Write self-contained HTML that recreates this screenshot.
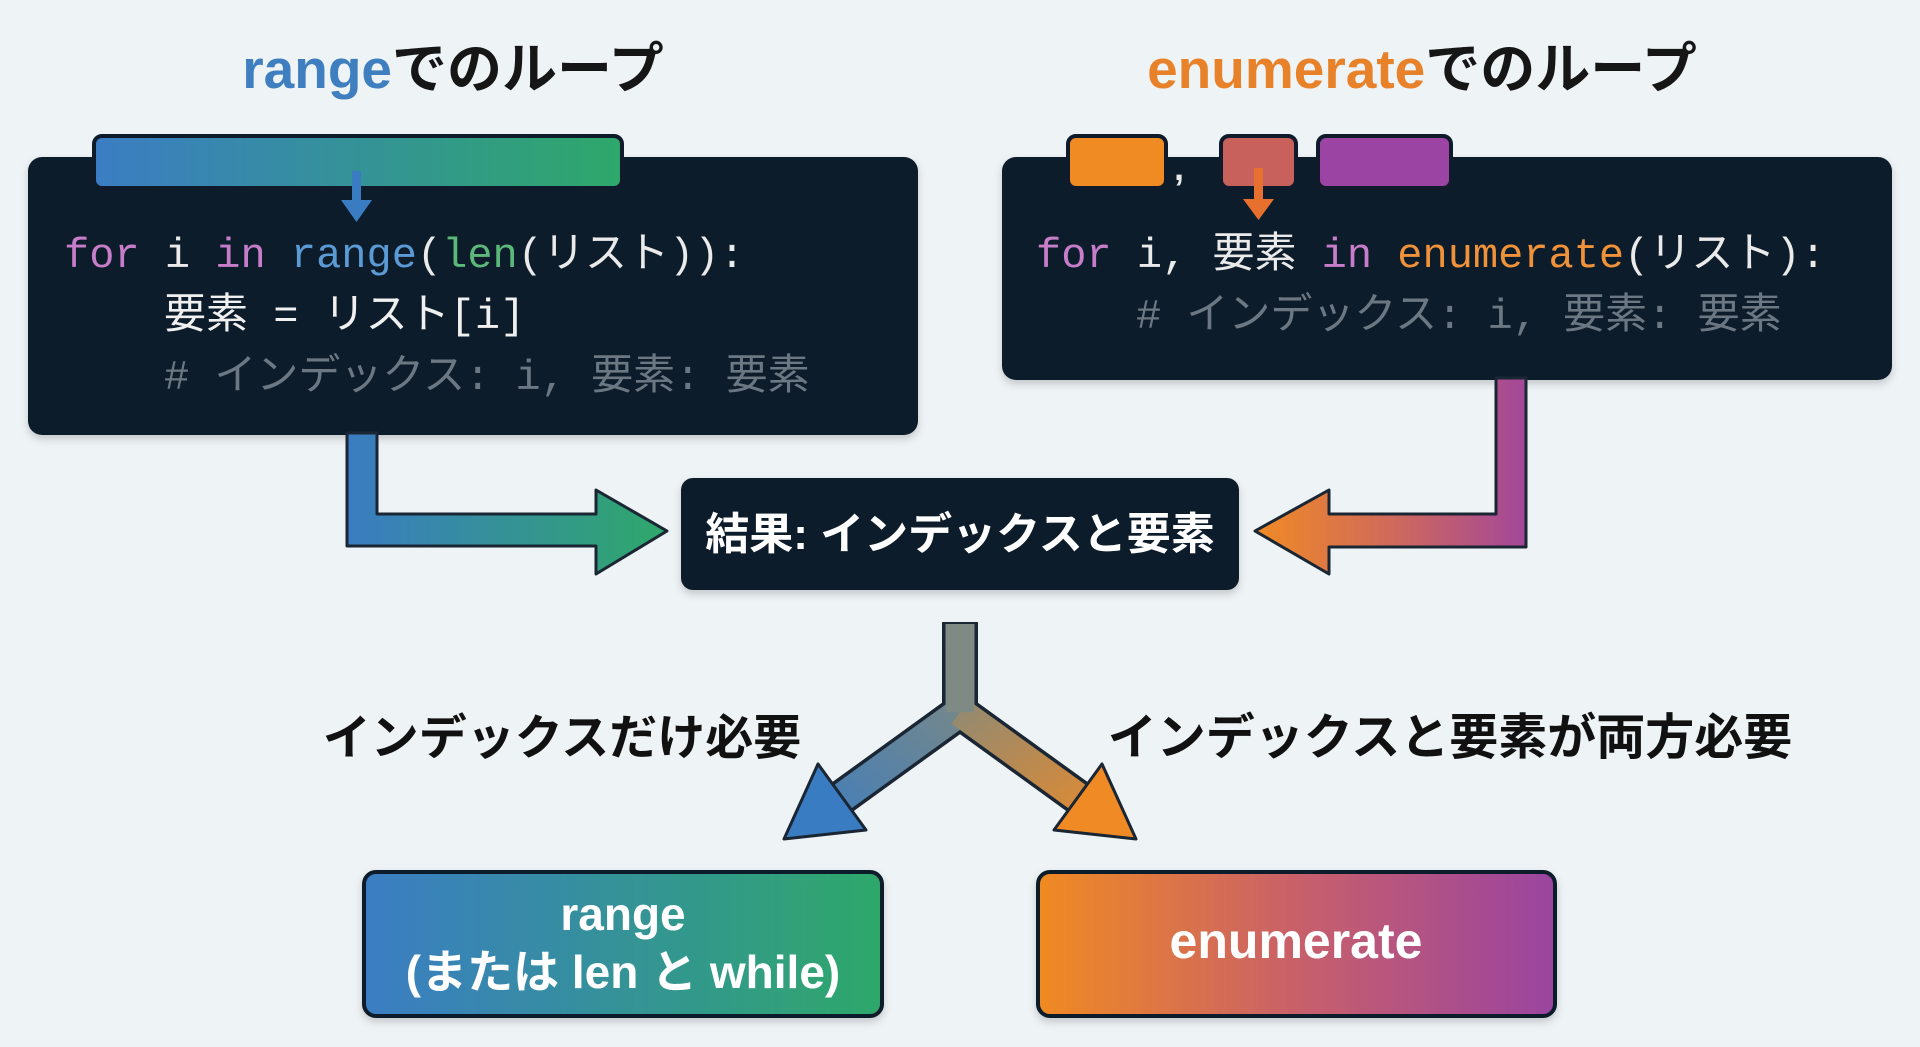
<!DOCTYPE html>
<html><head><meta charset="utf-8"><style>
html,body{margin:0;padding:0;background:#eef3f6;}
svg{display:block;}
.t{font-family:"Liberation Sans","Noto Sans CJK JP",sans-serif;font-weight:bold;}
.c{font-family:"Liberation Mono","Noto Sans CJK JP",monospace;font-size:42px;}
</style></head><body>
<svg width="1920" height="1047" viewBox="0 0 1920 1047" xmlns="http://www.w3.org/2000/svg">
<defs>
<linearGradient id="bg1" x1="0" x2="1"><stop offset="0" stop-color="#3b7dc4"/><stop offset="1" stop-color="#2ea86a"/></linearGradient>
<linearGradient id="la" gradientUnits="userSpaceOnUse" x1="347" y1="0" x2="667" y2="0"><stop offset="0" stop-color="#3a7cc2"/><stop offset="1" stop-color="#2fa86a"/></linearGradient>
<linearGradient id="ra" gradientUnits="userSpaceOnUse" x1="1255" y1="0" x2="1526" y2="0"><stop offset="0" stop-color="#f08a25"/><stop offset="0.5" stop-color="#d06a5a"/><stop offset="1" stop-color="#a2479a"/></linearGradient>
<linearGradient id="eg" x1="0" x2="1"><stop offset="0" stop-color="#f08a22"/><stop offset="0.5" stop-color="#c8606a"/><stop offset="1" stop-color="#9a44a0"/></linearGradient>
<linearGradient id="fl" gradientUnits="userSpaceOnUse" x1="960" y1="650" x2="790" y2="835"><stop offset="0" stop-color="#808a80"/><stop offset="1" stop-color="#3a7cc2"/></linearGradient>
<linearGradient id="fr" gradientUnits="userSpaceOnUse" x1="960" y1="650" x2="1130" y2="835"><stop offset="0" stop-color="#808a80"/><stop offset="1" stop-color="#f08a25"/></linearGradient>
<filter id="sh" x="-5%" y="-5%" width="110%" height="120%"><feDropShadow dx="0" dy="4" stdDeviation="4" flood-color="#000" flood-opacity="0.18"/></filter>
</defs>

<text x="453" y="88" text-anchor="middle" class="t" font-size="55"><tspan fill="#3f7fc0">range</tspan><tspan fill="#161616">でのループ</tspan></text>
<text x="1422" y="88" text-anchor="middle" class="t" font-size="55"><tspan fill="#e8822a">enumerate</tspan><tspan fill="#161616">でのループ</tspan></text>

<rect x="28" y="157" width="890" height="278" rx="14" fill="#0f1b2b" filter="url(#sh)"/>
<rect x="94" y="136" width="528" height="52" rx="8" fill="url(#bg1)" stroke="#0f1b2b" stroke-width="4"/>
<rect x="352" y="171" width="9" height="32" fill="#3a7cc2"/>
<polygon points="341,200 372,200 356.5,222" fill="#3a7cc2"/>
<text x="64" y="267" class="c" fill="#eaeaea"><tspan fill="#c77dc9">for</tspan> i <tspan fill="#c77dc9">in</tspan> <tspan fill="#5b9bd5">range</tspan>(<tspan fill="#5cb878">len</tspan>(リスト)):</text>
<text x="164" y="328" class="c" fill="#f0f0f0">要素 = リスト[i]</text>
<text x="164" y="389" class="c" fill="#6b7883"># インデックス: i, 要素: 要素</text>

<rect x="1002" y="157" width="890" height="223" rx="14" fill="#0f1b2b" filter="url(#sh)"/>
<rect x="1068" y="136" width="98" height="52" rx="8" fill="#f08a22" stroke="#0f1b2b" stroke-width="4"/>
<text x="1174" y="180" class="t" font-size="36" fill="#e8e8e8">,</text>
<rect x="1221" y="136" width="75" height="52" rx="8" fill="#c8605c" stroke="#0f1b2b" stroke-width="4"/>
<rect x="1318" y="136" width="133" height="52" rx="8" fill="#9c44a4" stroke="#0f1b2b" stroke-width="4"/>
<rect x="1254" y="168" width="9" height="34" fill="#e8702f"/>
<polygon points="1243,199 1274,199 1258.5,220" fill="#e8702f"/>
<text x="1036" y="267" class="c" fill="#eaeaea"><tspan fill="#c77dc9">for</tspan> i, 要素 <tspan fill="#c77dc9">in</tspan> <tspan fill="#f0923a">enumerate</tspan>(リスト):</text>
<text x="1136" y="328" class="c" fill="#6b7883"># インデックス: i, 要素: 要素</text>

<polygon points="347,433 377,433 377,514 596,514 596,490 667,531 596,574 596,546 347,546" fill="url(#la)" stroke="#1a2633" stroke-width="3" stroke-linejoin="round"/>
<polygon points="1526,378 1496,378 1496,514 1329,514 1329,490 1255,531 1329,574 1329,547 1526,547" fill="url(#ra)" stroke="#1a2633" stroke-width="3" stroke-linejoin="round"/>

<rect x="681" y="478" width="558" height="112" rx="12" fill="#0f1b2b" filter="url(#sh)"/>
<text x="960" y="549" text-anchor="middle" class="t" font-size="44" fill="#fff">結果: インデックスと要素</text>

<g stroke="#1a2633" stroke-width="36" stroke-linecap="butt" stroke-linejoin="miter" fill="none">
<path d="M960,622 L960,712 L841,798"/>
<path d="M960,712 L1079,798"/>
</g>
<path d="M960,624 L960,712 L841,798" stroke="url(#fl)" stroke-width="29" fill="none"/>
<path d="M960,712 L1079,798" stroke="url(#fr)" stroke-width="29" fill="none"/>
<rect x="946" y="624" width="28" height="88" fill="#7f8a84"/>
<polygon points="784,839 866,830 818,764" fill="#3a7cc2" stroke="#1a2633" stroke-width="3" stroke-linejoin="round"/>
<polygon points="1136,839 1054,830 1102,764" fill="#f08a25" stroke="#1a2633" stroke-width="3" stroke-linejoin="round"/>

<text x="562" y="754" text-anchor="middle" class="t" font-size="48" fill="#111">インデックスだけ必要</text>
<text x="1450" y="754" text-anchor="middle" class="t" font-size="49" fill="#111">インデックスと要素が両方必要</text>

<rect x="364" y="872" width="518" height="144" rx="12" fill="url(#bg1)" stroke="#0f1b2b" stroke-width="4" filter="url(#sh)"/>
<text x="623" y="930" text-anchor="middle" class="t" font-size="46" fill="#fff">range</text>
<text x="623" y="988" text-anchor="middle" class="t" font-size="46" fill="#fff">(または len と while)</text>
<rect x="1038" y="872" width="517" height="144" rx="12" fill="url(#eg)" stroke="#0f1b2b" stroke-width="4" filter="url(#sh)"/>
<text x="1296" y="958" text-anchor="middle" class="t" font-size="50" fill="#fff">enumerate</text>
</svg>
</body></html>
